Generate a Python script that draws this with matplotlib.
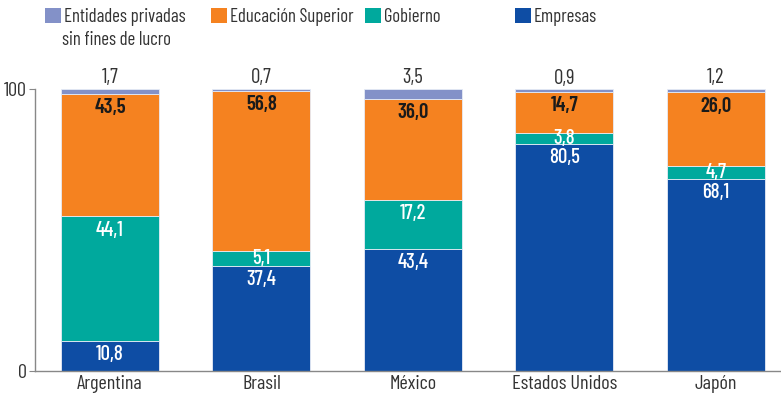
import matplotlib
matplotlib.use("Agg")
import matplotlib.pyplot as plt
from matplotlib.patches import Patch
import numpy as np

plt.rcParams['font.family'] = ['Barlow Condensed', 'DejaVu Sans']

categories = ["Argentina", "Brasil", "México", "Estados Unidos", "Japón"]
empresas = [10.8, 37.4, 43.4, 80.5, 68.1]
gobierno = [44.1, 5.1, 17.2, 3.8, 4.7]
educacion = [43.5, 56.8, 36.0, 14.7, 26.0]
entidades = [1.7, 0.7, 3.5, 0.9, 1.2]
yticks = [0, 100]

series = [
    ("Empresas", empresas, "#0E4DA4", "white"),
    ("Gobierno", gobierno, "#00A99D", "white"),
    ("Educación Superior", educacion, "#F58220", "#1a1a1a"),
    ("Entidades privadas\nsin fines de lucro", entidades, "#8391C8", None),
]

W, H = 781, 400
fig = plt.figure(figsize=(W / 100, H / 100), dpi=100)
ax = fig.add_axes([35 / W, 29 / H, 746 / W, 282 / H])

x = np.arange(len(categories))
bw = 0.647
bottom = np.zeros(len(categories))
px_per_unit = 282 / 100.0
fs = 14.5
lfs = 13.5
vfs = 15
for name, vals, color, tcol in series:
    vals = np.array(vals)
    ax.bar(x, vals, bw, bottom=bottom, color=color, edgecolor="#e6ebf5",
           linewidth=0.6, label=name, zorder=2)
    for xi, v, b in zip(x, vals, bottom):
        lab = f"{v:.1f}".replace(".", ",")
        top = b + v
        wt = "semibold" if tcol == "#1a1a1a" else "medium"
        if tcol is None:
            ax.annotate(lab, (xi, top), xytext=(0, 4), textcoords="offset points",
                        ha="center", va="baseline", fontsize=vfs, color="#333333")
        elif v * px_per_unit < 26:
            ax.annotate(lab, (xi, b + v / 2), xytext=(0, 0), textcoords="offset points",
                        ha="center", va="center", fontsize=vfs, color=tcol, fontweight=wt)
        else:
            ax.annotate(lab, (xi, top), xytext=(0, -10), textcoords="offset points",
                        ha="center", va="center", fontsize=vfs, color=tcol, fontweight=wt)
    bottom = bottom + vals

ax.set_xlim(-0.495, 4.43)
ax.set_ylim(0, 100)
ax.set_yticks(yticks)
ax.set_yticklabels([str(t) for t in yticks], fontsize=fs, color="#333333")
ax.set_xticks(x)
ax.set_xticklabels(categories, fontsize=fs, color="#333333")
ax.tick_params(axis="x", length=0, pad=3)
ax.tick_params(axis="y", length=4, width=0.8, color="#888888", pad=2)
for s in ["top", "right"]:
    ax.spines[s].set_visible(False)
for s in ["left", "bottom"]:
    ax.spines[s].set_color("#888888")
    ax.spines[s].set_linewidth(1.0)

# Legend, one entry per position (first line only beside the swatch)
leg_pos = {
    "Entidades privadas\nsin fines de lucro": 45,
    "Educación Superior": 211,
    "Gobierno": 365,
    "Empresas": 515,
}
for name, vals, color, tcol in series:
    h = Patch(facecolor=color, edgecolor="none")
    first, *rest = name.split("\n")
    fig.legend(handles=[h], labels=[first], loc="upper left",
               bbox_to_anchor=(leg_pos[name] / W, 1 - 8 / H), frameon=False,
               borderpad=0, borderaxespad=0, handlelength=0.85, handleheight=0.85,
               handletextpad=0.15, fontsize=lfs, labelcolor="#333333")
    if rest:
        fig.text(62 / W, 1 - 31 / H, "\n".join(rest), ha="left", va="top",
                 fontsize=lfs, color="#333333")

fig.savefig("out.png", dpi=100)
